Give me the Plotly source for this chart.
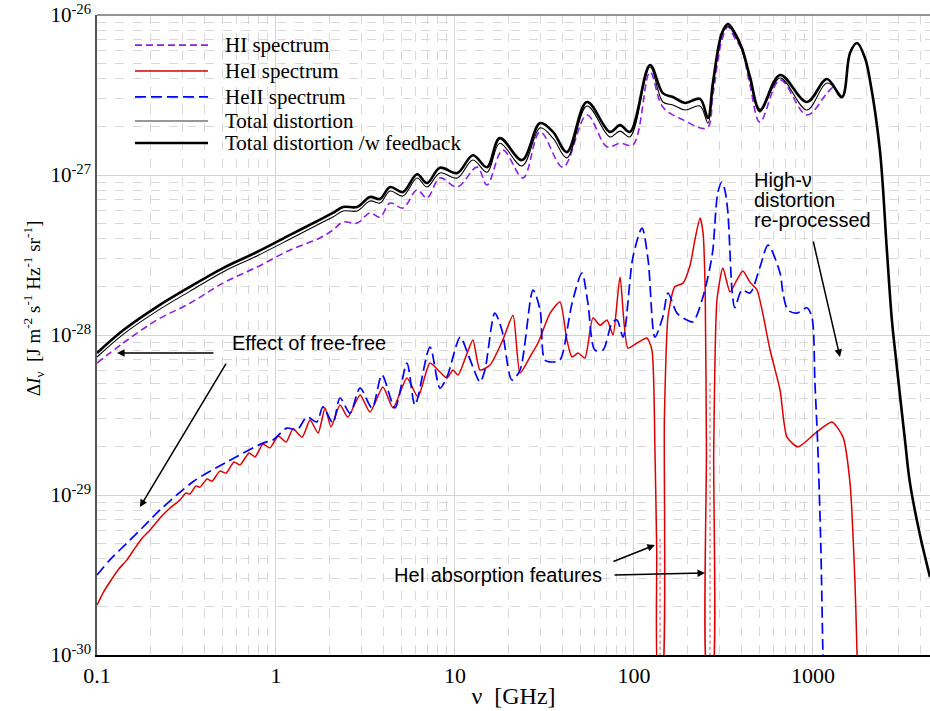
import plotly.graph_objects as go

# ---------------- data (frequency in GHz, intensity in J m^-2 s^-1 Hz^-1 sr^-1) ----------------
hi_x = [0.1, 0.14, 0.216, 0.331, 0.506, 0.783, 1.20, 1.76, 2.08, 2.37, 2.84, 3.35, 3.81, 4.34, 5.12, 6.14,
        6.98, 8.24, 10.3, 13.3, 15.1, 18.5, 24.0, 29.9, 40.1, 54.6, 70.7, 83.6, 98.7, 123, 145, 188, 256,
        276, 310, 335, 366, 401, 445, 506, 655, 925, 1197, 1294]
hi_y = [6.68e-29, 8.91e-29, 1.24e-28, 1.58e-28, 2.11e-28, 2.66e-28, 3.40e-28, 4.04e-28, 4.53e-28, 5.08e-28,
        5.01e-28, 5.79e-28, 5.46e-28, 6.68e-28, 6.22e-28, 8.06e-28, 7.18e-28, 9.58e-28, 8.41e-28, 1.12e-27,
        8.66e-28, 1.43e-27, 9.58e-28, 1.86e-27, 1.12e-27, 2.37e-27, 1.50e-27, 1.58e-27, 1.54e-27, 4.40e-27,
        2.66e-27, 2.21e-27, 1.97e-27, 3.16e-27, 6.98e-27, 8.41e-27, 7.18e-27, 6.04e-27, 3.65e-27, 2.14e-27,
        3.93e-27, 2.37e-27, 3.25e-27, 3.55e-27]

hei_x = [0.1, 0.108, 0.118, 0.131, 0.147, 0.163, 0.181, 0.198, 0.225, 0.256, 0.291, 0.314, 0.331, 0.357,
         0.376, 0.412, 0.439, 0.486, 0.526, 0.582, 0.629, 0.707, 0.764, 0.846, 0.926, 1.03, 1.14, 1.245,
         1.40, 1.55, 1.72, 1.88, 2.03, 2.28, 2.52, 2.95, 3.35, 3.96, 4.51, 5.39, 6.21, 7.25, 8.24, 9.02,
         9.75, 10.4, 11.7, 12.6, 13.8, 15.7, 18.5, 21.1, 23.1, 26.2, 29.1, 34.0, 38.6, 42.2, 45.1, 48.7,
         53.2, 59.0, 64.6, 70.7, 76.4, 83.6, 92.5, 104, 118, 126, 131, 134, 137, 143, 148, 155, 169, 188,
         206, 219, 234, 243, 250, 254, 258, 273, 279, 291, 314, 344, 376, 406, 445, 487, 576, 655, 716,
         825, 1052, 1277, 1472, 1611, 1718, 1763, 1784]
hei_y = [2.05e-30, 2.44e-30, 2.86e-30, 3.40e-30, 3.93e-30, 4.66e-30, 5.46e-30, 6.04e-30, 7.18e-30, 8.29e-30,
         9.31e-30, 1.03e-29, 1.015e-29, 1.14e-29, 1.12e-29, 1.26e-29, 1.22e-29, 1.41e-29, 1.37e-29, 1.61e-29,
         1.54e-29, 1.83e-29, 1.73e-29, 2.08e-29, 1.97e-29, 2.34e-29, 2.14e-29, 2.59e-29, 2.30e-29, 2.94e-29,
         2.44e-29, 3.50e-29, 2.66e-29, 3.65e-29, 3.07e-29, 4.22e-29, 3.30e-29, 4.73e-29, 3.50e-29, 5.38e-29,
         4.10e-29, 6.68e-29, 5.87e-29, 5.38e-29, 6.04e-29, 5.62e-29, 7.71e-29, 9.31e-29, 6.04e-29, 6.49e-29,
         9.31e-29, 1.33e-28, 5.79e-29, 7.28e-29, 8.91e-29, 1.37e-28, 1.61e-28, 9.31e-29, 7.28e-29, 7.71e-29,
         7.18e-29, 1.28e-28, 1.15e-28, 1.24e-28, 1.00e-28, 2.30e-28, 8.29e-29, 8.91e-29, 9.58e-29, 8.06e-29,
         1.91e-29, 4.53e-30, 7e-31, 7e-31, 3.07e-29, 1.30e-28, 2.00e-28, 2.11e-28, 2.74e-28, 3.93e-28,
         5.38e-28, 4.40e-28, 1.91e-28, 1.91e-29, 7e-31, 7e-31, 1.91e-29, 1.66e-28, 2.62e-28, 1.86e-28,
         2.21e-28, 2.51e-28, 2.14e-28, 1.91e-28, 8.06e-29, 4.53e-29, 2.30e-29, 2.00e-29, 2.48e-29, 2.86e-29,
         2.30e-29, 1.19e-29, 2.82e-30, 1.03e-30, 7e-31]

heii_x = [0.1, 0.118, 0.147, 0.181, 0.225, 0.344, 0.532, 0.846, 0.962, 1.15, 1.31, 1.49, 1.69, 1.83, 2.08,
          2.28, 2.59, 2.95, 3.44, 3.91, 4.62, 5.39, 5.98, 7.25, 8.24, 9.02, 10.7, 11.7, 12.6, 13.8, 14.7,
          16.7, 18.3, 20.8, 23.1, 27.3, 29.9, 31.8, 35.3, 38.6, 45.1, 51.2, 55.3, 60.5, 67.1, 75.4, 80.4,
          86.9, 98.7, 111, 120, 131, 145, 155, 174, 198, 214, 243, 266, 276, 294, 310, 322, 335, 353, 366,
          401, 445, 506, 561, 655, 680, 725, 814, 925, 986, 1026, 1066, 1108, 1137, 1150]
heii_y = [3.16e-30, 3.93e-30, 5.01e-30, 6.31e-30, 8.06e-30, 1.21e-29, 1.61e-29, 2.11e-29, 2.21e-29, 2.62e-29,
          2.55e-29, 3.07e-29, 2.86e-29, 3.55e-29, 2.82e-29, 4.04e-29, 3.25e-29, 4.66e-29, 3.50e-29, 5.62e-29,
          3.50e-29, 6.68e-29, 3.65e-29, 8.41e-29, 4.66e-29, 5.46e-29, 9.71e-29, 7.83e-29, 6.31e-29, 5.08e-29,
          6.04e-29, 1.37e-28, 1.07e-28, 5.23e-29, 6.04e-29, 1.91e-28, 1.43e-28, 6.98e-29, 6.78e-29, 6.98e-29,
          1.58e-28, 2.44e-28, 1.58e-28, 8.06e-29, 8.06e-29, 1.19e-28, 1.24e-28, 9.71e-29, 3.07e-28, 4.66e-28,
          2.94e-28, 9.71e-29, 1.30e-28, 1.83e-28, 1.37e-28, 1.24e-28, 1.21e-28, 1.73e-28, 2.66e-28, 3.40e-28,
          7.72e-28, 9.04e-28, 8.06e-28, 5.79e-28, 1.91e-28, 1.48e-28, 1.91e-28, 1.83e-28, 2.66e-28, 3.65e-28,
          2.44e-28, 1.83e-28, 1.43e-28, 1.37e-28, 1.48e-28, 1.30e-28, 5.01e-29, 1.91e-29, 4.53e-30, 1.03e-30,
          7e-31]

tot_x = [0.1, 0.14, 0.216, 0.331, 0.506, 0.783, 1.20, 1.83, 2.08, 2.37, 2.84, 3.35, 3.81, 4.34, 5.12, 6.14,
         6.98, 8.24, 10.3, 12.6, 15.1, 17.8, 23.7, 29.9, 35.3, 42.2, 54.6, 73.5, 83.6, 95.0, 123, 145, 165,
         193, 234, 259, 276, 310, 335, 366, 401, 445, 506, 655, 925, 1197, 1452]
tot_y = [7.28e-29, 1.01e-28, 1.41e-28, 1.88e-28, 2.48e-28, 3.12e-28, 3.98e-28, 5.08e-28, 5.46e-28, 5.96e-28,
         5.96e-28, 6.88e-28, 6.68e-28, 7.94e-28, 7.39e-28, 9.58e-28, 8.41e-28, 1.03e-27, 9.58e-28, 1.24e-27,
         1.04e-27, 1.58e-27, 1.14e-27, 1.97e-27, 1.70e-27, 1.28e-27, 2.70e-27, 1.73e-27, 1.88e-27, 1.73e-27,
         4.73e-27, 2.86e-27, 2.74e-27, 2.55e-27, 2.70e-27, 2.11e-27, 3.50e-27, 7.50e-27, 8.54e-27, 7.50e-27,
         6.04e-27, 3.93e-27, 2.48e-27, 4.04e-27, 2.55e-27, 3.76e-27, 3.07e-27]

fb_x = [0.1, 0.14, 0.216, 0.331, 0.506, 0.783, 1.20, 1.83, 2.08, 2.37, 2.84, 3.35, 3.81, 4.34, 5.12, 6.14,
        6.98, 8.24, 10.3, 12.6, 15.1, 17.8, 23.7, 29.9, 35.3, 42.2, 54.6, 73.5, 83.6, 95.0, 123, 145, 165,
        193, 234, 259, 276, 310, 335, 366, 401, 445, 506, 655, 925, 1197, 1452, 1611, 1763, 1954, 2081,
        2366, 2588, 2761, 2944, 3266, 3483, 3963, 4510]
fb_y = [7.71e-29, 1.07e-28, 1.50e-28, 2.00e-28, 2.62e-28, 3.30e-28, 4.22e-28, 5.38e-28, 5.79e-28, 6.31e-28,
        6.31e-28, 7.29e-28, 7.08e-28, 8.41e-28, 7.83e-28, 1.01e-27, 8.91e-28, 1.11e-27, 1.03e-27, 1.33e-27,
        1.12e-27, 1.70e-27, 1.24e-27, 2.11e-27, 1.86e-27, 1.39e-27, 2.86e-27, 1.86e-27, 2.05e-27, 1.86e-27,
        4.87e-27, 3.25e-27, 3.07e-27, 2.82e-27, 2.99e-27, 2.27e-27, 3.76e-27, 7.72e-27, 8.79e-27, 7.72e-27,
        6.22e-27, 4.10e-27, 2.55e-27, 4.22e-27, 2.86e-27, 3.98e-27, 3.07e-27, 5.79e-27, 6.68e-27, 5.38e-27,
        3.93e-27, 1.43e-27, 3.40e-28, 1.24e-28, 6.31e-29, 2.21e-29, 1.19e-29, 5.62e-30, 3.07e-30]

# thin dotted HeI traces inside the absorption troughs
abs1_x = [140.0, 140.0]
abs1_y = [7e-31, 5.5e-30]
abs2_x = [266, 266]
abs2_y = [7e-31, 5.0e-29]

x_tick_vals = [0.1, 1, 10, 100, 1000]
x_tick_text = ["0.1", "1", "10", "100", "1000"]
y_tick_vals = [1e-30, 1e-29, 1e-28, 1e-27, 1e-26]
y_tick_text = ["10<sup>-30</sup>", "10<sup>-29</sup>", "10<sup>-28</sup>", "10<sup>-27</sup>", "10<sup>-26</sup>"]
x_minor = [k * 10.0 ** n for n in range(-1, 4) for k in range(2, 10) if k * 10.0 ** n < 4600]
y_minor = [k * 10.0 ** n for n in range(-30, -26) for k in range(2, 10)]

legend_labels = ["HI spectrum", "HeI spectrum", "HeII spectrum", "Total distortion", "Total distortion /w feedback"]

# ---------------- styles ----------------
C_HI = "#8c1ee6"
C_HEI = "#dd0000"
C_HEII = "#0000ff"
serif = "Liberation Serif"
sans = "Liberation Sans"

fig = go.Figure()
fig.add_trace(go.Scatter(x=hi_x, y=hi_y, mode="lines", name=legend_labels[0],
                         line=dict(color=C_HI, width=1.6, dash="7px,4px", shape="spline", smoothing=1.0)))
fig.add_trace(go.Scatter(x=hei_x, y=hei_y, mode="lines", name=legend_labels[1],
                         line=dict(color=C_HEI, width=1.5, shape="spline", smoothing=0.6)))
fig.add_trace(go.Scatter(x=abs1_x, y=abs1_y, mode="lines", showlegend=False,
                         line=dict(color="#f07070", width=1.3, dash="dot")))
fig.add_trace(go.Scatter(x=abs2_x, y=abs2_y, mode="lines", showlegend=False,
                         line=dict(color="#f07070", width=1.3, dash="dot")))
fig.add_trace(go.Scatter(x=heii_x, y=heii_y, mode="lines", name=legend_labels[2],
                         line=dict(color=C_HEII, width=1.7, dash="11px,5px", shape="spline", smoothing=0.8)))
fig.add_trace(go.Scatter(x=tot_x, y=tot_y, mode="lines", name=legend_labels[3],
                         line=dict(color="black", width=1.1, shape="spline", smoothing=1.0)))
fig.add_trace(go.Scatter(x=fb_x, y=fb_y, mode="lines", name=legend_labels[4],
                         line=dict(color="black", width=2.6, shape="spline", smoothing=1.0)))

grid_major = "#d2d2d2"
grid_minor = "#d9d9d9"

fig.update_layout(
    width=930, height=711,
    margin=dict(l=97, r=0, t=15, b=56),
    paper_bgcolor="white", plot_bgcolor="white",
    showlegend=False,
    font=dict(family=serif, size=21, color="black"),
    xaxis=dict(type="log", range=[-1, 3.654], tickvals=x_tick_vals, ticktext=x_tick_text,
               showgrid=True, gridcolor=grid_major, gridwidth=1, ticks="", zeroline=False,
               minor=dict(tickvals=x_minor, showgrid=True, gridcolor=grid_minor, griddash="dash", gridwidth=1, ticks=""),
               showline=True, linecolor="black", linewidth=1.5,
               tickfont=dict(family=serif, size=22),
               title=dict(text="ν  [GHz]", font=dict(family=serif, size=24), standoff=0)),
    yaxis=dict(type="log", range=[-30, -26], tickvals=y_tick_vals, ticktext=y_tick_text,
               showgrid=True, gridcolor=grid_major, gridwidth=1, ticks="", zeroline=False,
               minor=dict(tickvals=y_minor, showgrid=True, gridcolor=grid_minor, griddash="dash", gridwidth=1, ticks=""),
               showline=True, linecolor="#555555", linewidth=1.5,
               tickfont=dict(family=serif, size=21)),
)

# y-axis title (placed as rotated text)
fig.add_annotation(xref="paper", yref="paper", x=-0.0768, y=0.542, textangle=-90, showarrow=False,
                   text="Δ<i>I</i><sub>ν</sub>  [J m<sup>-2</sup> s<sup>-1</sup> Hz<sup>-1</sup> sr<sup>-1</sup>]",
                   xanchor="center", yanchor="middle", font=dict(family=serif, size=19, color="black"))

# top frame line
fig.add_shape(type="line", xref="paper", yref="paper", x0=0, x1=1, y0=1, y1=1,
              line=dict(color="#707070", width=1.5))

# ---------------- manual legend ----------------
leg_styles = [dict(color=C_HI, width=1.6, dash="7px,4px"),
              dict(color=C_HEI, width=1.5),
              dict(color=C_HEII, width=1.7, dash="11px,5px"),
              dict(color="#333333", width=1.1),
              dict(color="black", width=2.6)]
leg_rows = [0.953, 0.9125, 0.872, 0.8344, 0.800]
for lab, sty, yy in zip(legend_labels, leg_styles, leg_rows):
    fig.add_shape(type="line", xref="paper", yref="paper", x0=0.0456, x1=0.1333, y0=yy, y1=yy, line=sty)
    fig.add_annotation(xref="paper", yref="paper", x=0.1513, y=yy, text=lab, showarrow=False,
                       xanchor="left", yanchor="middle", font=dict(family=serif, size=21, color="black"))

# ---------------- annotations (positions in log10 units) ----------------
ann_font = dict(family=sans, size=20, color="black")
arrow_kw = dict(xref="x", yref="y", axref="x", ayref="y", text="", showarrow=True,
                arrowhead=2, arrowsize=1.0, arrowwidth=1.5, arrowcolor="black")

fig.add_annotation(x=-0.257, y=-28.05, xref="x", yref="y", text="Effect of free-free", showarrow=False,
                   xanchor="left", yanchor="middle", font=ann_font)
fig.add_annotation(x=-0.888, y=-28.113, ax=-0.341, ay=-28.113, **arrow_kw)
fig.add_annotation(x=-0.760, y=-29.075, ax=-0.274, ay=-28.169, **arrow_kw)

fig.add_annotation(x=0.648, y=-29.5, xref="x", yref="y", text="HeI absorption features", showarrow=False,
                   xanchor="left", yanchor="middle", font=ann_font)
fig.add_annotation(x=2.397, y=-29.4875, ax=1.883, ay=-29.5, **arrow_kw)
fig.add_annotation(x=2.117, y=-29.3125, ax=1.877, ay=-29.419, **arrow_kw)

for txt, yy in zip(["High-ν", "distortion", "re-processed"], [-27.031, -27.156, -27.281]):
    fig.add_annotation(x=2.659, y=yy, xref="x", yref="y", text=txt, showarrow=False,
                       xanchor="left", yanchor="middle", font=ann_font)
fig.add_annotation(x=3.151, y=-28.1375, ax=3.0, ay=-27.406, **arrow_kw)

fig.write_html("out.html")
